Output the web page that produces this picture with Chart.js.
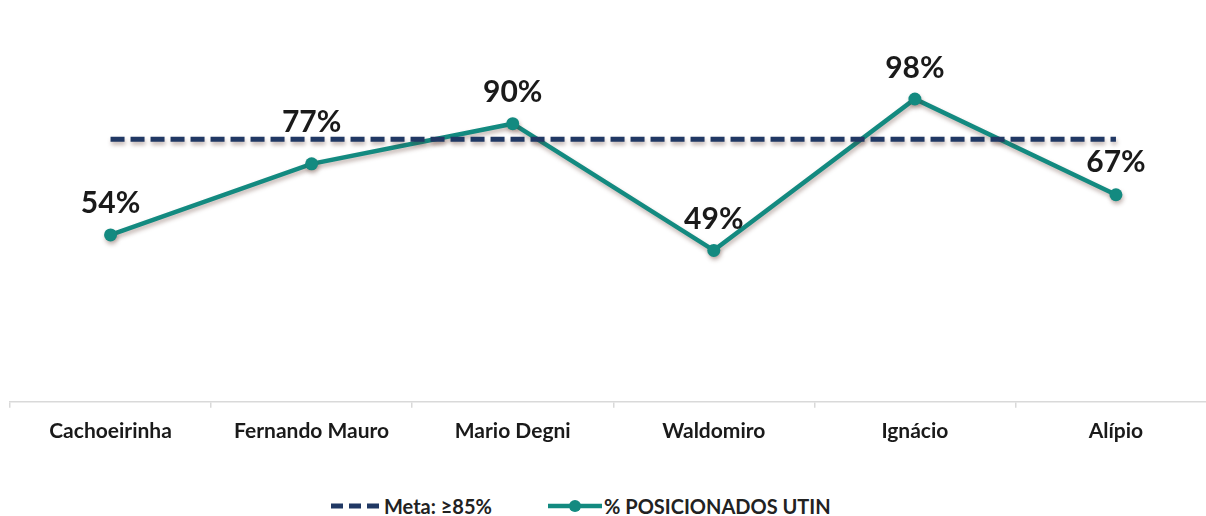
<!DOCTYPE html>
<html>
<head>
<meta charset="utf-8">
<script src="https://cdn.jsdelivr.net/npm/chart.js@4.4.0/dist/chart.umd.min.js"></script>
<style>
  html, body { margin: 0; padding: 0; background: #fff; overflow: hidden; }
  .wrap { position: relative; width: 1223px; height: 480px; }
  .legend { position: absolute; top: 494px; left: 330px; font-family: Lato, sans-serif; font-weight: bold; font-size: 20px; color: #222; white-space: nowrap; }
  .legend span { position: absolute; top: 0; display: inline-flex; align-items: center; }
  .legend svg { margin-right: 2px; }
</style>
</head>
<body>
<div class="wrap"><canvas id="chart" width="1223" height="480"></canvas></div>
<div class="legend">
  <span style="left:0"><svg width="52" height="22"><line x1="1" y1="11" x2="51" y2="11" stroke="#203864" stroke-width="5" stroke-dasharray="12,6"/></svg>Meta: ≥85%</span>
  <span style="left:218px"><svg width="54" height="22"><line x1="0" y1="11" x2="54" y2="11" stroke="#138a80" stroke-width="4.5"/><circle cx="27" cy="11" r="6" fill="#138a80"/></svg>% POSICIONADOS UTIN</span>
</div>
<script>
const categories = ['Cachoeirinha', 'Fernando Mauro', 'Mario Degni', 'Waldomiro', 'Ignácio', 'Alípio'];
const posicionados = [54, 77, 90, 49, 98, 67];
const meta = [85, 85, 85, 85, 85, 85];
const labelOffsets = [32, 42, 31, 31, 31, 32];

// draws the % values above each point
const valueLabels = {
    id: 'valueLabels',
    afterDatasetsDraw(chart) {
        const ctx = chart.ctx;
        const meta1 = chart.getDatasetMeta(1);
        ctx.save();
        ctx.font = 'bold 30px Lato, sans-serif';
        ctx.fillStyle = '#1a1a1a';
        ctx.textAlign = 'center';
        ctx.textBaseline = 'middle';
        meta1.data.forEach((pt, i) => {
            ctx.fillText(posicionados[i] + '%', pt.x, pt.y - labelOffsets[i]);
        });
        ctx.restore();
    }
};

// soft shadow under the lines
const lineShadow = {
    id: 'lineShadow',
    beforeDatasetDraw(chart) {
        const ctx = chart.ctx;
        ctx.save();
        ctx.shadowColor = 'rgba(80,40,30,0.35)';
        ctx.shadowBlur = 4;
        ctx.shadowOffsetX = 1;
        ctx.shadowOffsetY = 3;
    },
    afterDatasetDraw(chart) {
        chart.ctx.restore();
    }
};

new Chart(document.getElementById('chart'), {
    type: 'line',
    data: {
        labels: categories,
        datasets: [{
            label: 'Meta: ≥85%',
            data: meta,
            borderColor: '#203864',
            borderWidth: 5,
            borderDash: [14, 6],
            pointRadius: 0,
            fill: false
        }, {
            label: '% POSICIONADOS UTIN',
            data: posicionados,
            borderColor: '#138a80',
            backgroundColor: '#138a80',
            borderWidth: 4.5,
            pointRadius: 6.5,
            pointBackgroundColor: '#138a80',
            pointBorderWidth: 0,
            fill: false
        }]
    },
    options: {
        responsive: false,
        animation: false,
        layout: { padding: { top: 31, bottom: 25, left: 10, right: 0 } },
        plugins: { legend: { display: false }, tooltip: { enabled: false } },
        scales: {
            y: { display: false, min: 0, max: 120 },
            x: {
                offset: true,
                border: { color: '#d9d9d9', width: 1.5 },
                grid: { offset: true, drawOnChartArea: false, drawTicks: true, tickLength: 6, color: '#d9d9d9', lineWidth: 1.5 },
                ticks: { color: '#1a1a1a', padding: 11, maxRotation: 0, autoSkip: false, font: { family: 'Lato', weight: 'bold', size: 21 } }
            }
        }
    },
    plugins: [lineShadow, valueLabels]
});
</script>
</body>
</html>
